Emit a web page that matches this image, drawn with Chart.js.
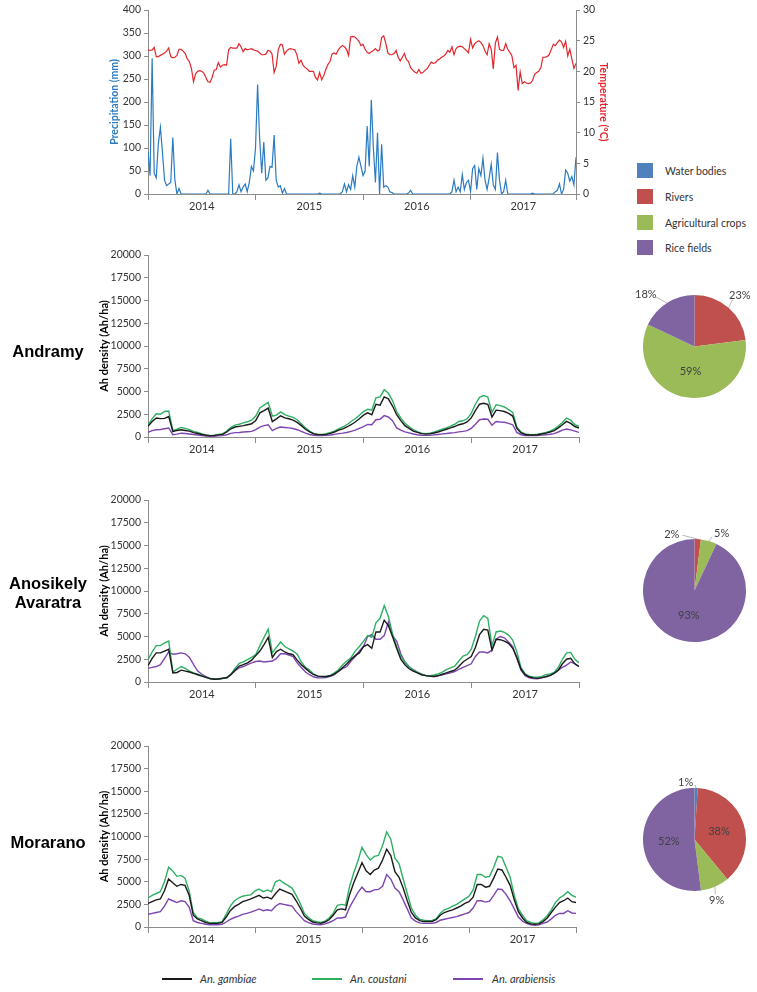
<!DOCTYPE html>
<html><head><meta charset="utf-8">
<script src="https://cdn.jsdelivr.net/npm/chart.js@4.4.1/dist/chart.umd.min.js"></script>
<style>
html,body{margin:0;padding:0;background:#fff;}
#page{position:relative;width:757px;height:992px;overflow:hidden;background:#fff;font-family:Lato,'Liberation Sans',sans-serif;}
canvas{position:absolute;}
.site{position:absolute;left:0;width:96px;text-align:center;font:bold 16.5px 'Liberation Sans',Arial,sans-serif;color:#000;line-height:19px;}
.sq{position:absolute;width:16px;height:15px;}
.lt{position:absolute;font-size:10.5px;color:#333;line-height:14px;white-space:nowrap;}
.ln{position:absolute;width:30px;height:2px;}
.li{position:absolute;font-size:11px;font-style:italic;color:#333;line-height:14px;white-space:nowrap;}
</style></head><body><div id="page">
<canvas id="cTop" width="510" height="215" style="left:104px;top:0px;width:510px;height:215px"></canvas>
<canvas id="cAnd" width="489" height="213" style="left:94px;top:245px;width:489px;height:213px"></canvas>
<canvas id="cAno" width="489" height="213" style="left:94px;top:490px;width:489px;height:213px"></canvas>
<canvas id="cMor" width="486" height="212" style="left:94px;top:736px;width:486px;height:212px"></canvas>
<canvas id="pAnd" width="157" height="153" style="left:600px;top:275px;width:157px;height:153px"></canvas>
<canvas id="pAno" width="157" height="153" style="left:600px;top:519px;width:157px;height:153px"></canvas>
<canvas id="pMor" width="157" height="153" style="left:600px;top:768px;width:157px;height:153px"></canvas>
<div class="site" style="top:342px">Andramy</div>
<div class="site" style="top:574px">Anosikely<br>Avaratra</div>
<div class="site" style="top:833px">Morarano</div>
<div id="legends"></div>
</div>
<script>
// ---------------- DATA ----------------
const yearLabels = ['2014','2015','2016','2017'];
const landCover = ['Water bodies','Rivers','Agricultural crops','Rice fields'];
const speciesNames = ['An. gambiae','An. coustani','An. arabiensis'];

// weekly precipitation (mm), 208 weeks
const precipitation = [92,40,295,45,35,110,145,90,30,18,22,25,123,30,0,12,0,
0,0,0,0,0,0,0,0,0,0,0,0,
8,
0,0,0,0,0,0,0,0,0,0,
120,0,0,5,20,5,15,22,5,25,60,50,100,238,120,45,113,30,35,60,58,128,30,15,18,2,12,0,
0,0,0,0,0,0,0,0,0,0,0,0,0,0,0,
2,
0,0,0,0,0,0,0,0,0,0,
5,22,5,20,10,40,15,60,80,60,40,50,148,60,205,100,25,133,0,108,15,18,15,5,3,
0,0,0,0,0,0,0,
2,8,
0,0,0,0,0,0,0,0,0,0,0,0,0,0,0,0,0,0,0,
5,30,5,15,5,42,10,25,30,5,55,62,10,55,40,78,30,10,35,65,20,10,90,30,0,5,30,0,
0,0,0,0,0,0,0,0,0,0,0,
2,
0,0,0,0,0,0,0,0,0,0,
5,8,22,0,10,52,45,28,38,20,80];

// weekly temperature (°C), 208 weeks
const temperature = [23.5,23.4,23.5,23.9,22.4,22.4,22.6,22.8,23.0,23.3,
23.8,22.4,22.2,22.3,22.6,23.6,23.6,23.3,22.9,22.0,
21.6,20.5,18.3,19.6,20.0,20.1,20.0,19.7,19.0,18.3,
18.2,19.0,20.2,20.3,21.4,20.7,21.0,21.1,21.0,23.5,
23.9,23.8,23.8,23.8,24.5,24.0,23.2,23.7,23.5,23.6,
23.7,23.5,23.4,23.3,23.0,22.7,22.7,22.8,23.4,23.3,
22.8,19.8,20.8,23.5,24.4,24.3,22.8,23.3,23.6,23.7,
23.6,23.5,22.7,21.3,21.8,21.0,20.6,20.4,20.0,20.0,
20.0,19.0,18.6,19.8,18.6,19.3,20.3,21.1,21.6,22.8,
23.0,22.8,23.5,23.9,24.2,24.0,23.6,22.6,25.6,25.7,
25.6,25.3,24.9,24.2,24.4,23.6,23.1,22.9,23.2,23.4,
23.7,23.3,23.5,25.5,25.8,24.6,23.0,22.7,22.7,22.9,
23.4,22.3,21.7,22.3,22.9,21.9,21.6,20.6,20.2,19.9,
19.7,20.3,19.7,19.8,20.2,20.4,21.0,21.5,21.3,21.4,
21.8,22.0,22.3,22.5,22.8,23.4,23.1,24.0,22.7,23.7,
24.0,24.1,24.0,23.7,23.4,23.0,25.2,23.8,24.5,24.8,
25.0,24.7,24.2,23.3,22.7,24.5,23.6,20.4,24.6,25.6,
23.6,23.4,23.4,24.5,23.6,23.1,22.5,20.6,21.0,16.9,
19.9,18.0,18.3,18.1,18.0,18.1,18.5,19.5,19.8,20.0,
20.6,22.3,22.3,22.4,22.7,23.5,24.4,24.2,24.7,25.1,
24.8,23.9,24.9,22.5,23.6,22.0,20.5,21.3];

// Anopheles densities (Ah/ha), one value every 2 weeks (weeks 0..208)
const andramyGambiae = [1170,1700,2080,2020,2050,2250,600,720,800,720,
650,480,380,280,190,150,180,230,290,550,
900,1100,1170,1250,1350,1450,1800,2650,2900,3180,
1700,2000,2330,2100,2000,1850,1600,1250,850,550,
350,260,260,290,400,550,750,900,1100,1350,
1650,2000,2400,2650,2450,3600,3500,4400,4200,3400,
2450,1800,1250,950,650,500,370,320,350,440,
550,700,850,1000,1150,1350,1450,1650,2100,2900,
3600,3700,3600,2200,2950,2900,2800,2600,2300,950,
450,280,220,220,250,330,420,550,700,1000,
1350,1720,1500,1150,990];
const andramyCoustani = [1350,2000,2550,2500,2800,2850,700,850,1050,950,
820,620,500,330,230,150,200,280,360,650,
1050,1300,1400,1550,1680,1850,2300,3200,3500,3800,
2300,2400,2750,2450,2300,2150,1900,1450,1000,650,
380,280,280,370,500,650,900,1100,1350,1700,
2000,2400,2800,3050,2950,4300,4400,5200,4800,4000,
2800,2100,1500,1150,800,600,430,370,420,520,
700,850,1000,1200,1400,1700,1780,2000,2600,3600,
4350,4550,4400,2700,3550,3450,3300,3000,2700,1100,
550,350,270,260,300,400,500,650,850,1200,
1600,2080,1850,1350,1170];
const andramyArabiensis = [510,700,800,820,900,990,250,320,420,380,
330,270,220,150,100,70,90,120,150,250,
400,480,500,550,580,620,800,1080,1250,1350,
700,950,1100,1050,1000,930,800,620,420,280,
200,170,170,180,220,290,370,420,500,620,
750,950,1150,1380,1350,1900,1950,2350,2200,1800,
1000,750,560,450,330,250,200,180,180,230,
280,340,380,440,480,560,620,700,950,1400,
1900,1970,1950,1300,1700,1650,1620,1500,1350,500,
250,160,150,150,170,210,250,300,370,550,
750,880,780,650,510];

const anosikelyGambiae = [1800,2600,3200,3200,3400,3600,1000,1050,1300,1200,
1100,950,800,650,500,350,300,330,400,460,
800,1300,1750,1900,2100,2400,2900,3400,4100,4900,
2700,3350,3600,3300,3100,3000,2400,1900,1500,1100,
800,650,600,600,680,900,1200,1600,2000,2500,
2900,3200,3900,4100,3700,5500,5500,6800,6200,5000,
3700,2500,1900,1450,1200,1000,800,700,650,600,
700,850,1000,1150,1300,1700,2200,2500,2800,3800,
5200,5800,5700,3500,4700,4650,4500,4250,3700,2700,
1400,800,550,450,400,480,580,700,950,1300,
2000,2500,2600,2000,1700];
const anosikelyCoustani = [2450,3300,4000,4000,4300,4500,1100,1400,1700,1500,
1200,1000,850,700,500,380,320,300,380,460,
850,1500,2050,2200,2450,2700,3000,4000,4900,5800,
3200,3800,4400,3900,3650,3400,3050,2200,1600,1300,
850,650,560,600,720,1000,1350,1900,2300,2700,
3400,3900,4500,5100,4900,6500,7000,8400,7200,5300,
3900,2800,2200,1650,1300,1050,850,720,700,770,
900,1080,1350,1550,1750,2300,2850,3000,3600,5000,
6700,7300,7000,4000,5500,5600,5450,5150,4600,3300,
1600,900,650,550,520,620,800,900,1050,1600,
2500,3200,3250,2500,2100];
const anosikelyArabiensis = [1500,1600,1700,1900,2600,3300,3050,3100,3200,3100,
2700,1900,1200,850,600,400,360,350,420,500,
850,1250,1550,1700,1900,2100,2250,2300,2200,2250,
2300,2600,3100,3100,2950,2800,2100,1600,1100,800,
550,470,450,500,620,800,1200,1500,1700,2300,
2800,3400,3900,5000,5200,4700,4700,5100,6600,5100,
4500,3100,2200,1700,1350,1100,850,700,630,600,
680,780,900,1000,1150,1400,1600,1800,2000,2800,
3300,3300,3200,3500,4700,5000,4850,4400,3900,2600,
1300,700,450,370,350,450,600,750,1000,1300,
1600,1850,2200,2000,1700];

const moraranoGambiae = [2600,2800,3000,3100,4000,5300,4900,4500,4700,4600,
3500,1300,900,700,500,400,400,400,500,1100,
1800,2250,2500,2800,2950,3100,3300,3500,3200,3300,
3100,3700,4200,4000,3800,3600,2900,2100,1200,850,
550,450,400,550,800,1300,1900,2000,1900,3600,
4900,6000,7100,6200,5800,6300,6500,7400,8600,7900,
6100,5500,4300,2900,1600,1000,700,600,600,600,
800,1300,1600,1750,1900,2100,2300,2600,2800,3300,
4700,4700,4400,4500,5400,6400,6300,5500,4600,3000,
1700,1000,500,350,300,350,600,1000,1600,2200,
2700,2900,3200,2800,2700];
const moraranoCoustani = [3200,3500,3700,3900,5000,6600,6200,5600,5700,5400,
4000,1600,1000,900,650,450,470,500,600,1400,
2300,2900,3200,3400,3500,3550,4000,4200,3900,4100,
3900,5000,5200,4850,4600,4300,3500,2600,1500,1050,
700,580,500,650,1000,1500,2400,2500,2400,4500,
6000,7300,8800,8000,7400,7800,7900,9000,10500,9700,
7600,7000,5300,3700,2100,1300,850,750,700,720,
900,1500,1900,2050,2300,2500,2800,3100,3400,4100,
5800,5800,5500,5600,6600,7800,7700,6600,5500,3500,
2000,1300,700,500,400,450,800,1250,1900,2700,
3200,3500,3900,3500,3300];
const moraranoArabiensis = [1400,1500,1600,1700,2300,3100,2900,2700,2900,2800,
2200,700,500,400,300,250,250,250,300,550,
850,1050,1200,1400,1500,1650,1800,2000,1800,1900,
1800,2300,2600,2500,2400,2300,1700,1200,700,480,
330,280,250,350,500,700,1000,1000,1100,2200,
3000,3800,4400,3900,3900,4100,4150,4500,5800,5300,
4300,3900,3000,2000,1000,650,450,400,400,400,
500,750,850,950,1050,1150,1300,1450,1600,2100,
2900,2900,2750,2850,3500,4200,4150,3600,2900,2000,
1100,650,400,250,200,230,400,550,900,1300,
1500,1500,1800,1550,1500];

// land cover shares (%): water bodies, rivers, agricultural crops, rice fields
const andramyLand = [0,23,59,18];
const anosikelyLand = [0,2,5,93];
const moraranoLand = [1,38,9,52];

// ---------------- STYLE ----------------
const AXIS = '#8c8c8c', TXT = '#333333';
const speciesColors = ['#1a1a1a','#2eb063','#7d45b0'];
const landColors = ['#4f81bd','#c0504d','#9bbb59','#8064a2'];
const PRECIP_COLOR = '#2a7bc1', TEMP_COLOR = '#e3262b';
const DENSITY_STEP_WEEKS = 2;

Chart.defaults.font.family = "Lato, 'Liberation Sans', sans-serif";
Chart.defaults.font.size = 10.5;
Chart.defaults.color = TXT;
Chart.defaults.animation = false;

function xAxis(maxWeek){
  const bounds = [0,52,104,156,maxWeek];
  return {
    type:'linear', min:0, max:maxWeek,
    afterBuildTicks: s => { const t=[]; for(let i=0;i<4;i++){ t.push({value:bounds[i]}); t.push({value:(bounds[i]+bounds[i+1])/2}); } t.push({value:maxWeek}); s.ticks=t; },
    afterFit: s => { s.height = 21; },
    grid:{display:true, drawOnChartArea:false, drawTicks:true, tickLength:6, tickWidth:1, tickColor: c => (c.index % 2 === 0 ? AXIS : 'rgba(0,0,0,0)')},
    border:{display:true, color:AXIS, width:1},
    ticks:{autoSkip:false, maxRotation:0, minRotation:0, padding:0, color:TXT, font:{size:11},
      callback:(v,i) => (i % 2 === 1 ? yearLabels[(i-1)/2] : '')}
  };
}
function yAxis(o){
  return {
    type:'linear', position:o.position || 'left', min:0, max:o.max,
    afterFit: s => { s.width = o.width; },
    grid:{display:true, drawOnChartArea:false, drawTicks:true, tickLength:4, tickColor:AXIS},
    border:{display:true, color:AXIS, width:1},
    ticks:{stepSize:o.step, padding:3, color:TXT, autoSkip:false, callback:v => String(v)},
    title:{display:true, text:o.title, color:o.titleColor, font:{weight:'bold', size:o.titleSize || 10.5}, padding:{top:4,bottom:4}}
  };
}
function lineDS(label, arr, step, color, width){
  return {label, data:arr.map((v,i)=>({x:i*step, y:v})), borderColor:color, backgroundColor:color,
    borderWidth:width, pointRadius:0, tension:0, fill:false};
}

// ---------------- TOP CHART ----------------
new Chart(document.getElementById('cTop'), {
  type:'line',
  data:{datasets:[
    Object.assign(lineDS('Temperature', temperature, 1, TEMP_COLOR, 1.2), {yAxisID:'y1'}),
    Object.assign(lineDS('Precipitation', precipitation, 1, PRECIP_COLOR, 1.2), {yAxisID:'y'})
  ]},
  options:{responsive:false, animation:false, events:[],
    layout:{padding:{top:10,right:0,left:0,bottom:0}},
    plugins:{legend:{display:false}, tooltip:{enabled:false}},
    scales:{
      x: xAxis(207),
      y: yAxis({max:400, step:50, width:44, title:'Precipitation (mm)', titleColor:PRECIP_COLOR}),
      y1: yAxis({position:'right', max:30, step:5, width:38, title:'Temperature (°C)', titleColor:TEMP_COLOR})
    }}
});

// ---------------- DENSITY CHARTS ----------------
function densityChart(id, g, c, a, rightPad){
  new Chart(document.getElementById(id), {
    type:'line',
    data:{datasets:[
      lineDS(speciesNames[0], g, DENSITY_STEP_WEEKS, speciesColors[0], 1.4),
      lineDS(speciesNames[1], c, DENSITY_STEP_WEEKS, speciesColors[1], 1.4),
      lineDS(speciesNames[2], a, DENSITY_STEP_WEEKS, speciesColors[2], 1.4)
    ]},
    options:{responsive:false, animation:false, events:[],
      layout:{padding:{top:10,right:rightPad,left:0,bottom:0}},
      plugins:{legend:{display:false}, tooltip:{enabled:false}},
      scales:{
        x: xAxis(208),
        y: yAxis({max:20000, step:2500, width:54, title:'Ah density (Ah/ha)', titleColor:'#000', titleSize:11})
      }}
  });
}
densityChart('cAnd', andramyGambiae, andramyCoustani, andramyArabiensis, 4);
densityChart('cAno', anosikelyGambiae, anosikelyCoustani, anosikelyArabiensis, 4);
densityChart('cMor', moraranoGambiae, moraranoCoustani, moraranoArabiensis, 4);

// ---------------- PIES ----------------
const pieLabelPlugin = {
  id:'pieLabels',
  afterDatasetsDraw(chart, args, opts){
    const ctx = chart.ctx, meta = chart.getDatasetMeta(0), data = chart.data.datasets[0].data;
    ctx.save();
    ctx.font = "11px Lato, 'Liberation Sans', sans-serif";
    ctx.fillStyle = '#404040'; ctx.textAlign = 'center'; ctx.textBaseline = 'middle';
    meta.data.forEach((arc, i) => {
      const v = data[i]; if (!v) return;
      const p = arc.getProps(['x','y','startAngle','endAngle','outerRadius'], true);
      const mid = (p.startAngle + p.endAngle) / 2;
      const txt = v + '%';
      if (opts.place[i] === 'in'){
        const r = p.outerRadius * 0.5;
        ctx.fillText(txt, p.x + Math.cos(mid)*r, p.y + Math.sin(mid)*r);
      } else {
        const r2 = p.outerRadius * 1.33, n = opts.nudge[i] || [0,0];
        const lx = p.x + Math.cos(mid)*r2 + n[0], ly = p.y + Math.sin(mid)*r2 + n[1];
        const sx = p.x + Math.cos(mid)*p.outerRadius, sy = p.y + Math.sin(mid)*p.outerRadius;
        const dx = lx - sx, dy = ly - sy, d = Math.hypot(dx, dy);
        const ex = lx - dx/d*11, ey = ly - dy/d*6;
        ctx.strokeStyle = '#9a9a9a'; ctx.lineWidth = 0.7;
        ctx.beginPath(); ctx.moveTo(sx, sy); ctx.lineTo(ex, ey); ctx.stroke();
        ctx.fillText(txt, lx, ly);
      }
    });
    ctx.restore();
  }
};
function pieChart(id, values, place, nudge){
  new Chart(document.getElementById(id), {
    type:'pie',
    data:{labels:landCover, datasets:[{data:values, backgroundColor:landColors, borderWidth:0}]},
    options:{responsive:false, animation:false, events:[],
      layout:{padding:{left:43,right:11,top:20,bottom:30}},
      plugins:{legend:{display:false}, tooltip:{enabled:false}, pieLabels:{place, nudge}}},
    plugins:[pieLabelPlugin]
  });
}
pieChart('pAnd', andramyLand, [null,'out','in','out'], [null,[0,0],null,[-12,6]]);
pieChart('pAno', anosikelyLand, [null,'out','out','in'], [null,[-27,12],[8,9],null]);
pieChart('pMor', moraranoLand, ['out','in','out','in'], [[-11,11],null,[-5,-2],null]);

// ---------------- HTML LEGENDS ----------------
const lg = document.getElementById('legends');
const sqTops = [163,189,215,240];
landCover.forEach((name,i) => {
  const s = document.createElement('div'); s.className='sq';
  s.style.left='637px'; s.style.top=sqTops[i]+'px'; s.style.background=landColors[i]; lg.appendChild(s);
  const t = document.createElement('div'); t.className='lt'; t.textContent=name;
  t.style.left='665px'; t.style.top=(sqTops[i]+0.5)+'px'; lg.appendChild(t);
});
const lineLefts = [162,312,453], textLefts = [200,350,492];
speciesNames.forEach((name,i) => {
  const l = document.createElement('div'); l.className='ln';
  l.style.left=lineLefts[i]+'px'; l.style.top='978px'; l.style.background=speciesColors[i]; lg.appendChild(l);
  const t = document.createElement('div'); t.className='li'; t.textContent=name;
  t.style.left=textLefts[i]+'px'; t.style.top='972px'; lg.appendChild(t);
});
</script>
</body></html>
